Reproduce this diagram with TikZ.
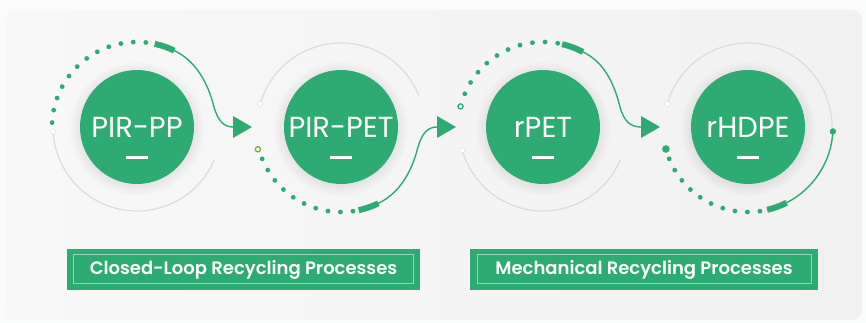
\documentclass[tikz,border=0pt]{standalone}
\usepackage{fontspec}
\setmainfont{Poppins}
\IfFontExistsTF{Poppins SemiBold}{\newfontfamily\tagfont{Poppins SemiBold}}{\newfontfamily\tagfont{Poppins}[FakeBold=2.2]}

\definecolor{recgreen}{RGB}{46,171,114}
\definecolor{ringgray}{RGB}{220,220,220}
\definecolor{olivedot}{RGB}{122,168,58}
\definecolor{panelL}{RGB}{248,248,248}
\definecolor{panelR}{RGB}{241,241,241}
\definecolor{pagebg}{RGB}{250,252,252}

\tikzset{
  disc/.style={shape=circle, fill=recgreen, minimum size=114pt, inner sep=0pt, text=white, font=\fontsize{29}{32}\selectfont},
  ring/.style={draw=ringgray, line width=1.2pt},
  flow/.style={draw=recgreen, line width=1.4pt},
  bar/.style={draw=recgreen, line width=6pt},
  tagbox/.style={fill=recgreen, text=white, minimum width=353pt, minimum height=41pt, inner sep=0pt, font=\tagfont\fontsize{18}{20}\selectfont},
  tagline/.style={draw=white, draw opacity=0.5, line width=0.9pt},
}

\begin{document}
\begin{tikzpicture}[x=1pt,y=1pt]
\fill[pagebg] (0,0) rectangle (866,323);
\useasboundingbox (0,0) rectangle (866,323);
\shade[left color=panelL, right color=panelR, rounded corners=10pt] (5,3) rectangle (862,313);

% soft halo round the discs
\foreach \x in {137,341,543,748}
  \foreach \r in {57,59,...,67}
    \fill[black, opacity=0.012] (\x,194) circle (\r);

\node[disc] (pp) at (137,196) {PIR-PP};
\node[disc] (pet) at (341,196) {PIR-PET};
\node[disc] (rpet) at (543,196) {rPET};
\node[disc] (hdpe) at (748,196) {rHDPE};
\foreach \n in {pp,pet,rpet,hdpe}
  \fill[white] ([shift={(-11,-32.5)}]\n.center) rectangle ([shift={(11,-29.5)}]\n.center);

% grey rings
\draw[ring] ([shift={(183:84)}]pp.center) arc[start angle=183, end angle=337, radius=84];
\draw[ring] ([shift={(164:84)}]pet.center) arc[start angle=164, end angle=22, radius=84];
\draw[ring] ([shift={(196:84)}]rpet.center) arc[start angle=196, end angle=337, radius=84];
\draw[ring] ([shift={(164:84)}]hdpe.center) arc[start angle=164, end angle=-4, radius=84];
\filldraw[fill=white, draw=ringgray] ([shift={(183:84)}]pp.center) circle (2.6);
\filldraw[fill=white, draw=ringgray] ([shift={(164:84)}]pet.center) circle (2.6);
\filldraw[fill=white, draw=ringgray] ([shift={(196:84)}]rpet.center) circle (2.6);
\filldraw[fill=white, draw=ringgray] ([shift={(164:84)}]hdpe.center) circle (2.6);

% dotted arcs
\foreach \i in {0,...,11}
  \fill[recgreen] ([shift={({177-8.45*\i}:85)}]pp.center) circle (2.4);
\foreach \i in {0,...,9}
  \fill[recgreen] ([shift={({202+8.45*\i}:85)}]pet.center) circle (2.4);
\foreach \i in {0,...,9}
  \fill[recgreen] ([shift={({157-8.55*\i}:85)}]rpet.center) circle (2.4);
\foreach \i in {0,...,9}
  \fill[recgreen] ([shift={({202+8.45*\i}:85)}]hdpe.center) circle (2.4);
\filldraw[fill=white, draw=olivedot, line width=1.3pt] ([shift={(195:86)}]pet.center) circle (2.6);
\filldraw[fill=white, draw=recgreen, line width=1.3pt] ([shift={(166:85)}]rpet.center) circle (2.6);
\fill[recgreen] ([shift={(195:85)}]hdpe.center) circle (3.8);

% bars
\draw[bar] ([shift={(78:85)}]pp.center) arc[start angle=78, end angle=64, radius=85];
\draw[bar] ([shift={(282:85)}]pet.center) arc[start angle=282, end angle=296, radius=85];
\draw[bar] ([shift={(77:85)}]rpet.center) arc[start angle=77, end angle=62, radius=85];
\draw[bar] ([shift={(283:85)}]hdpe.center) arc[start angle=283, end angle=297, radius=85];
\coordinate (ppbar) at ([shift={(64:85)}]pp.center);
\coordinate (petbar) at ([shift={(296:85)}]pet.center);
\coordinate (rpetbar) at ([shift={(62:85)}]rpet.center);
\coordinate (hdpebar) at ([shift={(297:85)}]hdpe.center);

% arrows
\coordinate (a1) at (233,196);
\coordinate (a2) at (437,196);
\coordinate (a3) at (641,196);
\foreach \a in {a1,a2,a3}
  \fill[recgreen] (\a) -- ++(0,11) -- ++(19,-11) -- ++(-19,-11) -- cycle;

\path[flow] (ppbar) .. controls (196,262) and (208,240) .. (214,216) .. controls (218,202) and (224,196) .. (a1);
\path[flow] (petbar) .. controls (400,130) and (412,152) .. (418,176) .. controls (422,190) and (428,196) .. (a2);
\path[flow] (rpetbar) .. controls (604,261) and (614,240) .. (620,216) .. controls (624,202) and (630,196) .. (a3);
\draw[flow] (hdpebar) arc[start angle=297, end angle=357, radius=85];
\fill[recgreen] ([shift={(357:85)}]hdpe.center) circle (3.2);

% captions
\node[tagbox] (closed) at (243.5,53.5) {Closed-Loop Recycling Processes};
\node[tagbox, minimum width=348pt] (mech) at (644,53.5) {Mechanical Recycling Processes};
\draw[tagline] ([shift={(7,7)}]closed.south west) rectangle ([shift={(-7,-6)}]closed.north east);
\draw[tagline] ([shift={(8,7)}]mech.south west) rectangle ([shift={(-7,-6)}]mech.north east);
\end{tikzpicture}
\end{document}
